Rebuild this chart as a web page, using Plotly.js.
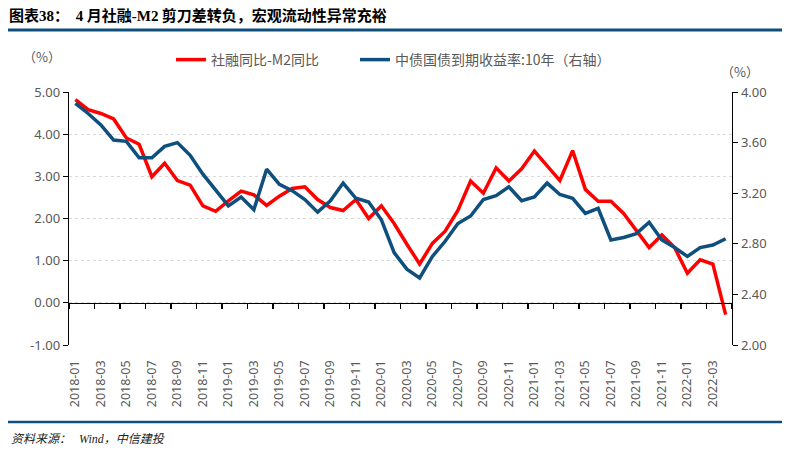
<!DOCTYPE html>
<html>
<head>
<meta charset="utf-8">
<script src="https://cdn.plot.ly/plotly-3.0.1.min.js"></script>
<style>
html,body{margin:0;padding:0;background:#fff;}
#chart{width:795px;height:451px;}
</style>
</head>
<body>
<div id="chart"></div>
<script>
// ---- data ----
const months = [
  "2018-01","2018-02","2018-03","2018-04","2018-05","2018-06","2018-07","2018-08","2018-09","2018-10","2018-11","2018-12",
  "2019-01","2019-02","2019-03","2019-04","2019-05","2019-06","2019-07","2019-08","2019-09","2019-10","2019-11","2019-12",
  "2020-01","2020-02","2020-03","2020-04","2020-05","2020-06","2020-07","2020-08","2020-09","2020-10","2020-11","2020-12",
  "2021-01","2021-02","2021-03","2021-04","2021-05","2021-06","2021-07","2021-08","2021-09","2021-10","2021-11","2021-12",
  "2022-01","2022-02","2022-03","2022-04"
];
const tsfMinusM2 = [
  4.82,4.58,4.49,4.36,3.91,3.76,2.99,3.31,2.90,2.79,2.30,2.17,
  2.42,2.65,2.56,2.31,2.53,2.71,2.75,2.45,2.26,2.19,2.45,2.00,
  2.30,1.88,1.39,0.92,1.41,1.70,2.19,2.89,2.60,3.20,2.89,3.18,
  3.60,3.25,2.90,3.61,2.69,2.41,2.41,2.12,1.70,1.31,1.61,1.31,
  0.70,1.02,0.92,-0.28
];
const cgb10y = [
  3.91,3.83,3.74,3.62,3.61,3.48,3.48,3.57,3.60,3.50,3.35,3.23,
  3.10,3.17,3.07,3.39,3.27,3.22,3.15,3.05,3.14,3.28,3.16,3.13,
  2.99,2.73,2.60,2.53,2.70,2.82,2.96,3.02,3.15,3.18,3.25,3.14,
  3.17,3.28,3.19,3.16,3.04,3.08,2.83,2.85,2.88,2.97,2.83,2.77,
  2.70,2.77,2.79,2.84
];
const seriesNames = ["社融同比-M2同比", "中债国债到期收益率:10年（右轴）"];
const leftTickVals = [-1,0,1,2,3,4,5];
const leftTickText = ["-1.00","0.00","1.00","2.00","3.00","4.00","5.00"];
const rightTickVals = [2.0,2.4,2.8,3.2,3.6,4.0];
const rightTickText = ["2.00","2.40","2.80","3.20","3.60","4.00"];
const serif = t => '<span style="font-family:Liberation Serif">' + t + '</span>';
const titleText = '图表' + serif('38') + '：\u00a0\u00a0' + serif('4') + '\u00a0月社融' + serif('-M2') + '\u00a0剪刀差转负，宏观流动性异常充裕';
const sourceText = '资料来源：\u00a0\u00a0\u00a0' + serif('Wind') + '，中信建投';
const unitText = "（%）";

// ---- layout geometry ----
const W = 795, H = 451;
const M = {l:69, r:63, t:92, b:106};
const pw = W - M.l - M.r, ph = H - M.t - M.b;
const px = x => (x - M.l) / pw;
const py = y => (H - M.b - y) / ph;

const tickFont = {family: "Noto Sans, Noto Sans CJK SC, sans-serif", size: 13, color: "#595959"};
const xTickFont = {family: "Noto Sans, Noto Sans CJK SC, sans-serif", size: 12.5, color: "#595959"};
const cjk = "Noto Sans CJK SC, Noto Sans, sans-serif";

const traces = [
  {x: months, y: tsfMinusM2, name: seriesNames[0], type: "scatter", mode: "lines",
   line: {color: "#FF0000", width: 3.5}, xaxis: "x", yaxis: "y", legend: "legend"},
  {x: months, y: cgb10y, name: seriesNames[1], type: "scatter", mode: "lines",
   line: {color: "#0F4F7D", width: 3.5}, xaxis: "x", yaxis: "y2", legend: "legend2"}
];

const legendFont = {family: cjk, size: 14, color: "#595959"};

const layout = {
  width: W, height: H,
  margin: M,
  paper_bgcolor: "#fff", plot_bgcolor: "#fff",
  showlegend: true,
  title: {text: titleText, xref: "container", yref: "container", x: 9/W, xanchor: "left",
          y: 1 - 16/H, yanchor: "middle",
          font: {family: cjk, size: 15, color: "#000", weight: "bold"}},
  xaxis: {
    type: "category", categoryorder: "array", categoryarray: months,
    range: [-0.5, months.length - 0.5],
    anchor: "free", position: 1/6,
    showline: true, linecolor: "#000", linewidth: 1.5,
    ticks: "outside", ticklen: 5, tickcolor: "#000", tickwidth: 1.2,
    tickson: "boundaries", dtick: 2, tickangle: -90,
    ticklabelstandoff: 51,
    showgrid: false, zeroline: false,
    tickfont: xTickFont
  },
  yaxis: {
    range: [-1, 5], tickvals: leftTickVals, ticktext: leftTickText,
    showline: true, linecolor: "#000", linewidth: 1.3,
    ticks: "outside", ticklen: 5, tickcolor: "#000",
    showgrid: true, gridcolor: "#d9d9d9", griddash: "dot", gridwidth: 1,
    zeroline: false, tickfont: tickFont
  },
  yaxis2: {
    range: [2, 4], tickvals: rightTickVals, ticktext: rightTickText,
    overlaying: "y", side: "right", anchor: "x",
    showline: true, linecolor: "#000", linewidth: 1.3,
    ticks: "outside", ticklen: 5, tickcolor: "#000",
    showgrid: false, zeroline: false, tickfont: tickFont
  },
  legend: {orientation: "h", x: px(171), xanchor: "left", y: py(60), yanchor: "middle",
           font: legendFont, bgcolor: "rgba(0,0,0,0)"},
  legend2: {orientation: "h", x: px(355), xanchor: "left", y: py(60), yanchor: "middle",
           font: legendFont, bgcolor: "rgba(0,0,0,0)"},
  shapes: [
    {type: "line", xref: "paper", yref: "paper", x0: px(8), x1: px(782), y0: py(30), y1: py(30),
     line: {color: "#0F4F7D", width: 3}},
    {type: "line", xref: "paper", yref: "paper", x0: px(8), x1: px(782), y0: py(422), y1: py(422),
     line: {color: "#0F4F7D", width: 2.5}}
  ],
  annotations: [
    {text: unitText, xref: "paper", yref: "paper", x: px(42), y: py(57), showarrow: false,
     xanchor: "center", yanchor: "middle", font: {family: cjk, size: 13, color: "#595959"}},
    {text: unitText, xref: "paper", yref: "paper", x: px(740), y: py(71), showarrow: false,
     xanchor: "center", yanchor: "middle", font: {family: cjk, size: 13, color: "#595959"}},
    {text: sourceText, xref: "paper", yref: "paper", x: px(9), y: py(437), showarrow: false,
     xanchor: "left", yanchor: "middle", font: {family: cjk, size: 12, color: "#222", style: "italic"}}
  ]
};

Plotly.newPlot("chart", traces, layout, {staticPlot: true, displayModeBar: false});
</script>
</body>
</html>
